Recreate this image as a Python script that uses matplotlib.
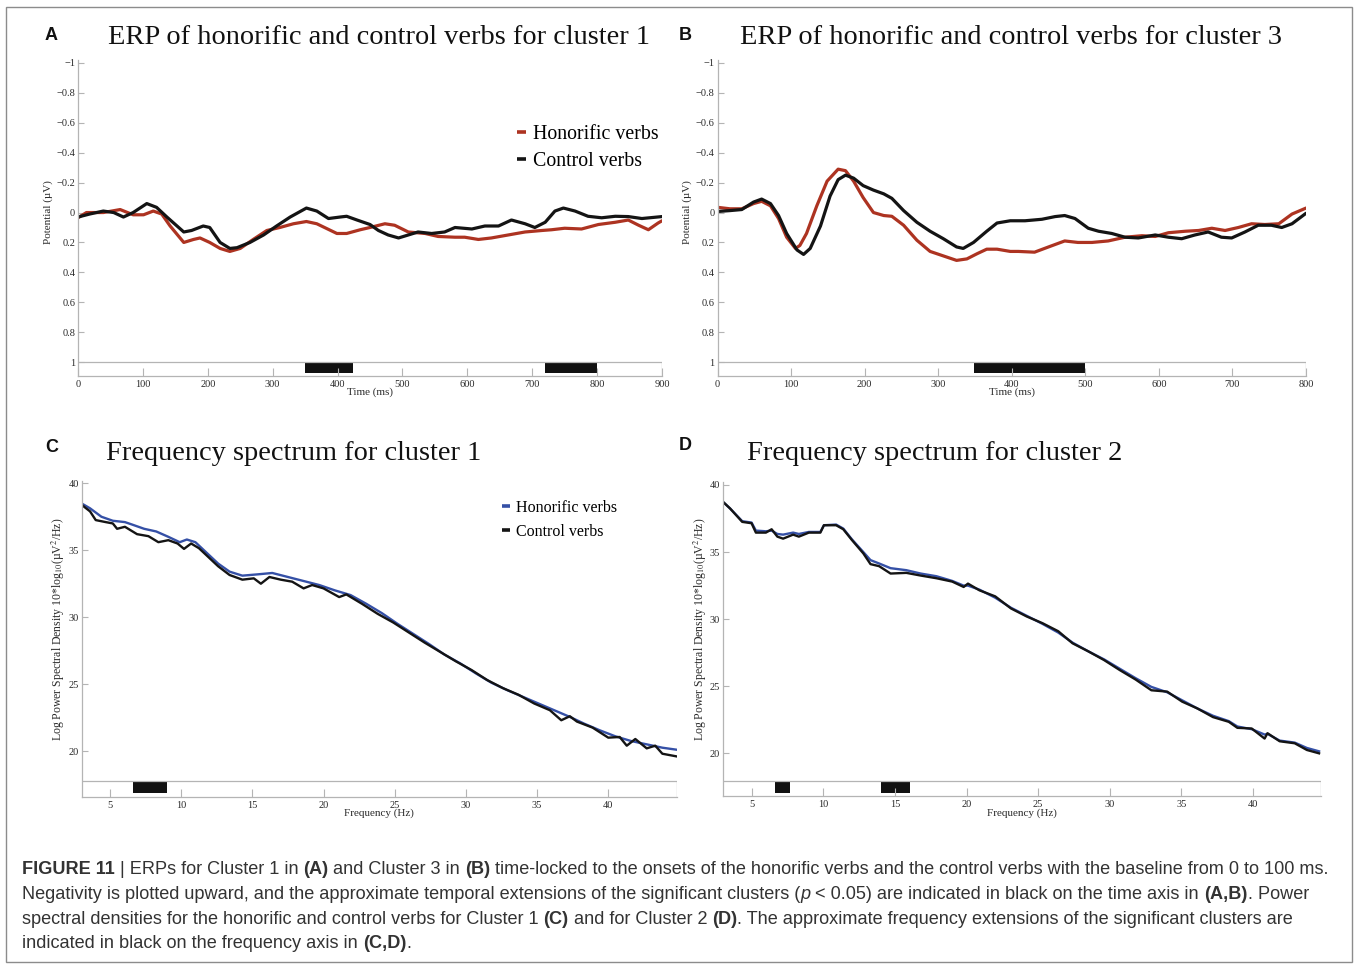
import numpy as np
import matplotlib
matplotlib.use("Agg")
import matplotlib.pyplot as plt
from matplotlib.patches import Rectangle

plt.rcParams['font.family'] = ['Liberation Serif', 'DejaVu Serif']
plt.rcParams['mathtext.fontset'] = 'stix'

# ---- ERP, cluster 1 (panel A) ----
a_t_hon = [0, 13, 39, 65, 85, 101, 116, 129, 142, 163, 178, 188, 203, 219, 234, 250, 270, 291,
           311, 332, 352, 368, 399, 414, 435, 450, 473, 488, 509, 535, 555, 581, 596, 617, 637,
           663, 689, 715, 730, 750, 776, 802, 828, 848, 864, 879, 894, 900]
a_hon = [0.035, 0, 0, -0.02, 0.015, 0.015, -0.01, 0.01, 0.09, 0.2, 0.18, 0.17, 0.2, 0.24, 0.26,
         0.24, 0.18, 0.12, 0.1, 0.075, 0.06, 0.075, 0.14, 0.14, 0.115, 0.10, 0.075, 0.085, 0.13,
         0.14, 0.16, 0.165, 0.165, 0.18, 0.17, 0.15, 0.13, 0.12, 0.115, 0.105, 0.11, 0.08, 0.065,
         0.05, 0.085, 0.115, 0.07, 0.055]
a_t_con = [0, 18, 39, 55, 70, 85, 106, 121, 137, 163, 175, 193, 203, 219, 234, 245, 265, 286,
           306, 327, 352, 368, 386, 404, 414, 430, 450, 463, 478, 494, 509, 524, 545, 565, 581,
           607, 627, 648, 668, 689, 704, 720, 735, 748, 766, 786, 807, 828, 848, 869, 900]
a_con = [0.03, 0.01, -0.01, 0, 0.03, 0, -0.06, -0.035, 0.03, 0.13, 0.12, 0.09, 0.10, 0.2, 0.24,
         0.235, 0.2, 0.15, 0.09, 0.03, -0.03, -0.01, 0.04, 0.03, 0.025, 0.05, 0.08, 0.12, 0.15,
         0.17, 0.15, 0.13, 0.14, 0.13, 0.10, 0.11, 0.09, 0.09, 0.05, 0.075, 0.10, 0.065, -0.01,
         -0.03, -0.01, 0.025, 0.035, 0.025, 0.027, 0.04, 0.027]
a_sig = [(350, 424), (720, 800)]

# ---- ERP, cluster 3 (panel B) ----
b_t_hon = [0, 17, 33, 49, 60, 72, 83, 94, 106, 112, 121, 135, 149, 164, 174, 185, 198, 212, 226,
           237, 253, 271, 289, 307, 325, 339, 353, 366, 380, 398, 409, 431, 450, 472, 490, 509,
           531, 554, 577, 595, 613, 636, 654, 672, 690, 708, 726, 744, 763, 781, 800]
b_hon = [-0.035, -0.025, -0.025, -0.06, -0.075, -0.045, 0.04, 0.165, 0.24, 0.22, 0.14, -0.045,
         -0.21, -0.29, -0.28, -0.21, -0.10, 0, 0.02, 0.025, 0.085, 0.185, 0.26, 0.29, 0.32, 0.31,
         0.275, 0.245, 0.245, 0.26, 0.26, 0.265, 0.23, 0.19, 0.2, 0.2, 0.19, 0.165, 0.155, 0.16,
         0.135, 0.125, 0.12, 0.105, 0.12, 0.1, 0.075, 0.08, 0.075, 0.01, -0.03]
b_t_con = [0, 17, 33, 49, 60, 72, 83, 94, 108, 117, 126, 140, 153, 164, 174, 185, 198, 212, 226,
           237, 253, 271, 289, 307, 325, 334, 348, 366, 380, 398, 418, 441, 459, 472, 486, 504,
           518, 536, 554, 572, 595, 613, 631, 649, 667, 685, 699, 717, 735, 753, 767, 781, 800]
b_con = [-0.007, -0.013, -0.02, -0.07, -0.09, -0.06, 0.02, 0.14, 0.25, 0.28, 0.24, 0.09, -0.11,
         -0.22, -0.25, -0.23, -0.18, -0.15, -0.125, -0.095, -0.013, 0.065, 0.125, 0.175, 0.23,
         0.24, 0.20, 0.125, 0.07, 0.055, 0.055, 0.045, 0.027, 0.02, 0.04, 0.105, 0.125, 0.14,
         0.165, 0.17, 0.15, 0.165, 0.175, 0.15, 0.13, 0.165, 0.17, 0.13, 0.085, 0.085, 0.10,
         0.075, 0.005]
b_sig = [(349, 500)]

# ---- power spectra, cluster 1 (panel C) ----
c_f_hon = [3.0, 3.6, 4.4, 5.2, 6.05, 6.6, 7.4, 8.25, 9.1, 9.9, 10.4, 11.0, 11.8, 12.6, 13.4,
           14.3, 15.4, 16.4, 17.5, 18.6, 19.7, 20.8, 21.9, 23.0, 24.1, 25.2, 26.3, 27.4, 28.5,
           29.6, 30.7, 31.8, 32.9, 34.0, 35.1, 36.2, 37.3, 38.3, 39.4, 40.5, 41.6, 42.7, 43.8, 44.8]
c_hon = [38.5, 38.13, 37.5, 37.2, 37.1, 36.9, 36.6, 36.4, 36.0, 35.6, 35.8, 35.6, 34.8, 34.0,
         33.4, 33.1, 33.2, 33.3, 33.0, 32.7, 32.4, 32.0, 31.65, 31.0, 30.3, 29.5, 28.75, 28.0,
         27.2, 26.55, 25.8, 25.1, 24.55, 24.05, 23.55, 23.05, 22.55, 22.05, 21.55, 21.1, 20.75,
         20.5, 20.25, 20.1]
c_f_con = [3.0, 3.6, 4.0, 4.7, 5.2, 5.5, 6.05, 6.9, 7.7, 8.4, 9.1, 9.75, 10.2, 10.7, 11.25,
           12.1, 12.6, 13.4, 14.3, 15.1, 15.6, 16.2, 17.0, 17.8, 18.6, 19.2, 20.0, 21.1, 21.6,
           22.7, 23.8, 24.9, 26.0, 27.1, 28.2, 29.3, 30.4, 31.5, 32.6, 33.7, 34.8, 35.9, 36.7,
           37.3, 37.8, 38.9, 40.0, 40.8, 41.3, 41.9, 42.7, 43.3, 43.8, 44.8]
c_con = [38.4, 37.9, 37.25, 37.1, 37.0, 36.6, 36.75, 36.2, 36.05, 35.6, 35.75, 35.5, 35.1,
         35.5, 35.15, 34.3, 33.8, 33.15, 32.8, 32.9, 32.5, 33.0, 32.8, 32.65, 32.15, 32.4, 32.15,
         31.5, 31.7, 31.0, 30.25, 29.6, 28.85, 28.1, 27.4, 26.7, 26.05, 25.3, 24.7, 24.2, 23.55,
         23.05, 22.3, 22.6, 22.2, 21.75, 21.0, 21.05, 20.4, 20.9, 20.2, 20.4, 19.8, 19.6]
c_sig = [(6.65, 9.0)]

# ---- power spectra, cluster 2 (panel D) ----
d_freq = [3.0, 3.5, 4.35, 5.0, 5.3, 6.0, 6.4, 6.8, 7.2, 7.9, 8.3, 9.0, 9.8, 10.05, 10.9, 11.4,
          12.0, 12.8, 13.3, 13.9, 14.7, 15.8, 16.8, 17.9, 19.0, 19.8, 20.1, 20.9, 22.0, 23.1,
          24.2, 25.3, 26.4, 27.4, 28.5, 29.6, 30.7, 31.8, 32.9, 34.0, 35.05, 36.1, 37.2, 38.3,
          38.9, 39.9, 40.8, 41.0, 41.85, 42.9, 43.75, 44.6]
d_hon = [38.75, 38.25, 37.3, 37.2, 36.6, 36.55, 36.6, 36.35, 36.3, 36.45, 36.35, 36.5, 36.5,
         37.0, 37.05, 36.75, 35.95, 35.0, 34.4, 34.15, 33.8, 33.65, 33.4, 33.2, 32.85, 32.5,
         32.5, 32.2, 31.6, 30.85, 30.25, 29.65, 29.0, 28.25, 27.6, 27.0, 26.3, 25.6, 24.95,
         24.55, 23.95, 23.35, 22.8, 22.4, 22.0, 21.8, 21.4, 21.45, 20.95, 20.8, 20.4, 20.15]
d_con = [38.75, 38.25, 37.25, 37.15, 36.45, 36.45, 36.7, 36.15, 36.0, 36.3, 36.15, 36.45,
         36.45, 37.0, 37.0, 36.7, 35.9, 34.9, 34.1, 33.95, 33.4, 33.45, 33.25, 33.05, 32.8,
         32.4, 32.65, 32.15, 31.7, 30.8, 30.2, 29.7, 29.1, 28.2, 27.6, 26.95, 26.2, 25.5, 24.7,
         24.6, 23.85, 23.35, 22.7, 22.35, 21.9, 21.85, 21.1, 21.5, 20.9, 20.75, 20.25, 20.0]
d_sig = [(6.66, 7.66), (14.0, 16.04)]

erp_ticks = [-1, -0.8, -0.6, -0.4, -0.2, 0, 0.2, 0.4, 0.6, 0.8, 1]
psd_ticks = [20, 25, 30, 35, 40]
freq_ticks = [5, 10, 15, 20, 25, 30, 35, 40]

RED = '#ad3321'
BLUE = '#3550a6'
BLACK = '#141414'
AXC = '#b4b4b4'
TXT = '#2a2a2a'

W, H = 1358, 964
fig = plt.figure(figsize=(W / 100, H / 100), dpi=100)


def px_axes(left, top, right, bottom):
    return fig.add_axes([left / W, 1 - bottom / H, (right - left) / W, (bottom - top) / H])


def style_axes(ax):
    for s in ('top', 'right'):
        ax.spines[s].set_visible(False)
    for s in ('left', 'bottom'):
        ax.spines[s].set_color(AXC)
        ax.spines[s].set_linewidth(0.9)
    ax.tick_params(direction='in', color=AXC, labelcolor=TXT, labelsize=7.5, width=0.8)
    ax.tick_params(axis='y', length=4, pad=2)
    ax.tick_params(axis='x', length=6, pad=3)


def fmt(v):
    s = '%g' % v
    return s.replace('-', '\u2212')


def erp_panel(ax, t_hon, hon, t_con, con, sig, tmax, ticks):
    ybot = 1.093
    ax.plot(t_hon, hon, color=RED, lw=2.3, label='Honorific verbs', solid_capstyle='round')
    ax.plot(t_con, con, color=BLACK, lw=2.3, label='Control verbs', solid_capstyle='round')
    ax.set_xlim(0, tmax)
    ax.set_ylim(ybot, -1.02)
    ax.axhline(1, color=AXC, lw=0.9)
    ax.vlines(tmax, 1, ybot, color=AXC, lw=0.9)
    for s0, s1 in sig:
        ax.add_patch(Rectangle((s0, 1.0), s1 - s0, 0.072, color='#111111', lw=0))
    ax.set_yticks(erp_ticks)
    ax.set_yticklabels([fmt(v) for v in erp_ticks])
    ax.set_xticks(ticks)
    ax.set_xticklabels([fmt(v) for v in ticks])
    style_axes(ax)
    ax.set_xlabel('Time (ms)', fontsize=8, color=TXT)
    ax.xaxis.set_label_coords(0.5, -0.036)
    ax.set_ylabel('Potential (\u00b5V)', fontsize=8, color=TXT)


def psd_panel(ax, f_hon, hon, f_con, con, sig, fmax, strip, ybot):
    ax.plot(f_hon, hon, color=BLUE, lw=1.7, label='Honorific verbs')
    ax.plot(f_con, con, color=BLACK, lw=1.7, label='Control verbs')
    ax.set_xlim(3, fmax)
    ax.set_ylim(ybot, 40.2)
    ax.axhline(strip, color=AXC, lw=0.9)
    ax.vlines(fmax, ybot, strip, color=AXC, lw=0.9)
    for s0, s1 in sig:
        ax.add_patch(Rectangle((s0, strip - 0.87), s1 - s0, 0.87, color='#111111', lw=0))
    ax.set_yticks(psd_ticks)
    ax.set_yticklabels([fmt(v) for v in psd_ticks])
    ax.set_xticks(freq_ticks)
    ax.set_xticklabels([fmt(v) for v in freq_ticks])
    style_axes(ax)
    ax.set_xlabel('Frequency (Hz)', fontsize=8, color=TXT)
    ax.xaxis.set_label_coords(0.5, -0.038)
    ax.set_ylabel('Log Power Spectral Density 10*log$_{10}$(\u00b5V$^2$/Hz)',
                  fontsize=8.5, color=TXT)


ax_a = px_axes(78, 60, 662, 376)
erp_panel(ax_a, a_t_hon, a_hon, a_t_con, a_con, a_sig, 900, list(range(0, 901, 100)))
ax_a.yaxis.set_label_coords(-0.042, 0.52)
ax_b = px_axes(717.5, 60, 1306, 376)
erp_panel(ax_b, b_t_hon, b_hon, b_t_con, b_con, b_sig, 800, list(range(0, 801, 100)))
ax_b.yaxis.set_label_coords(-0.043, 0.52)

ax_c = px_axes(81.5, 480.6, 676.6, 796.7)
psd_panel(ax_c, c_f_hon, c_hon, c_f_con, c_con, c_sig, 44.8, 17.76, 16.59)
ax_c.yaxis.set_label_coords(-0.024, 0.53)
ax_d = px_axes(722.9, 482.3, 1320.5, 796)
psd_panel(ax_d, d_freq, d_hon, d_freq, d_con, d_sig, 44.7, 17.94, 16.82)
ax_d.yaxis.set_label_coords(-0.024, 0.53)

# legends
ax_a.legend(loc='upper left', bbox_to_anchor=(517 / W, 1 - 125 / H), bbox_transform=fig.transFigure,
            frameon=False, fontsize=14.3, handlelength=0.45, handletextpad=0.35, labelspacing=0.42,
            borderpad=0, borderaxespad=0)
ax_c.legend(loc='upper left', bbox_to_anchor=(502 / W, 1 - 500 / H), bbox_transform=fig.transFigure,
            frameon=False, fontsize=11.5, handlelength=0.5, handletextpad=0.35, labelspacing=0.5,
            borderpad=0, borderaxespad=0)
for lg in (ax_a.get_legend(), ax_c.get_legend()):
    for h in lg.legend_handles:
        h.set_linewidth(2.6)
        h.set_solid_capstyle('butt')

# titles and panel letters
titles = [('A', 'ERP of honorific and control verbs for cluster 1', 45, 108, 36, 38),
          ('B', 'ERP of honorific and control verbs for cluster 3', 679, 740, 36, 38),
          ('C', 'Frequency spectrum for cluster 1', 45, 106, 447, 453),
          ('D', 'Frequency spectrum for cluster 2', 679, 747, 446, 453)]
for letter, title, lx, tx, ly, ty in titles:
    fig.text(lx / W, 1 - ly / H, letter, fontsize=13, fontweight='bold',
             family=['Liberation Sans', 'DejaVu Sans'], va='center', ha='left', color='#111111')
    fig.text(tx / W, 1 - ty / H, title, fontsize=20.4, va='center', ha='left', color='#111111')

# caption with mixed weights
cap_family = ['Liberation Sans', 'DejaVu Sans']
cap_lines = [
    [('FIGURE 11', 'bold', 'normal'), (' | ERPs for Cluster 1 in ', 'normal', 'normal'),
     ('(A)', 'bold', 'normal'), (' and Cluster 3 in ', 'normal', 'normal'), ('(B)', 'bold', 'normal'),
     (' time-locked to the onsets of the honorific verbs and the control verbs with the baseline from 0 to 100 ms.',
      'normal', 'normal')],
    [('Negativity is plotted upward, and the approximate temporal extensions of the significant clusters (',
      'normal', 'normal'), ('p', 'normal', 'italic'),
     (' < 0.05) are indicated in black on the time axis in ', 'normal', 'normal'),
     ('(A,B)', 'bold', 'normal'), ('. Power', 'normal', 'normal')],
    [('spectral densities for the honorific and control verbs for Cluster 1 ', 'normal', 'normal'),
     ('(C)', 'bold', 'normal'), (' and for Cluster 2 ', 'normal', 'normal'), ('(D)', 'bold', 'normal'),
     ('. The approximate frequency extensions of the significant clusters are', 'normal', 'normal')],
    [('indicated in black on the frequency axis in ', 'normal', 'normal'), ('(C,D)', 'bold', 'normal'),
     ('.', 'normal', 'normal')],
]
renderer = fig.canvas.get_renderer()
cap_y = [870, 894.5, 919, 943.5]
for runs, yy in zip(cap_lines, cap_y):
    x = 22
    for txt, weight, style in runs:
        t = fig.text(x / W, 1 - yy / H, txt, fontsize=13.08, fontweight=weight, fontstyle=style,
                     family=cap_family, va='center', ha='left', color='#333333')
        x += t.get_window_extent(renderer).width

# outer frame
fig.patches.append(Rectangle((6 / W, 1 - 962 / H), 1346 / W, 955 / H, transform=fig.transFigure,
                             fill=False, edgecolor='#8c8c8c', lw=1.0))

fig.savefig('out.png', dpi=100, facecolor='white')
